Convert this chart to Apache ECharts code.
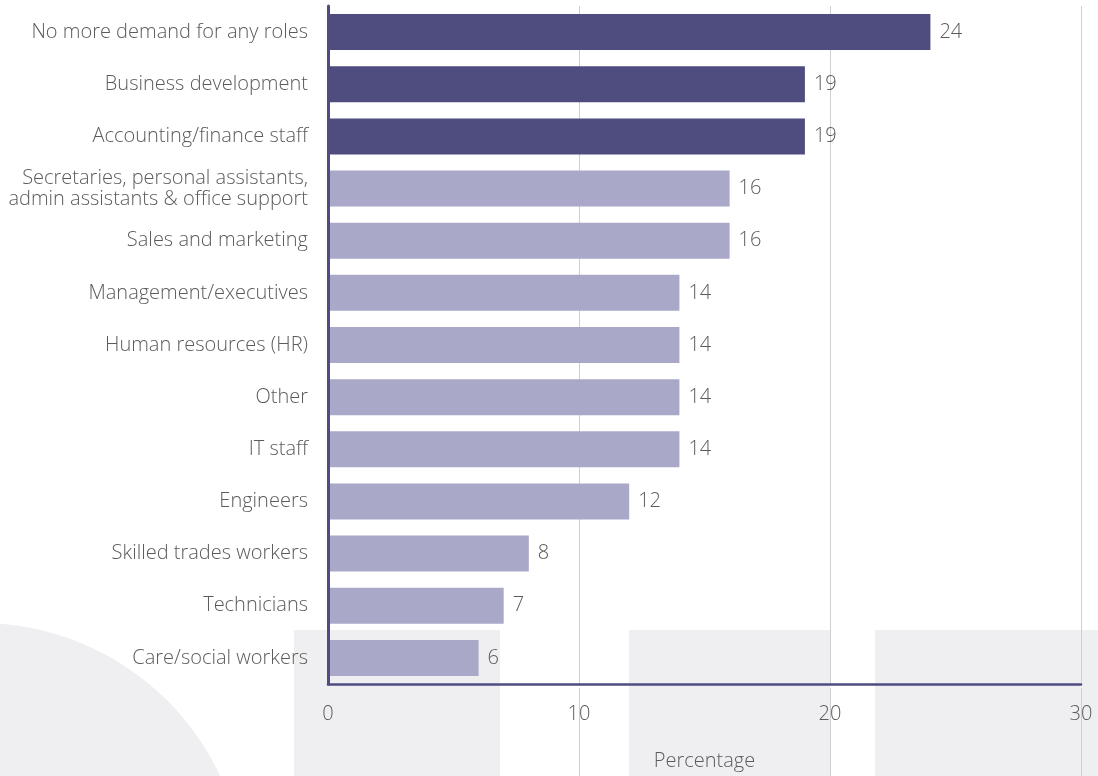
<!DOCTYPE html>
<html><head><meta charset="utf-8">
<script src="https://cdn.jsdelivr.net/npm/echarts@6/dist/echarts.min.js"></script>
<style>html,body{margin:0;padding:0;background:#fff}#c{width:1098px;height:776px}</style>
</head><body><div id="c"></div>
<script>
const categories = [
  "No more demand for any roles",
  "Business development",
  "Accounting/finance staff",
  "Secretaries, personal assistants,\nadmin assistants & office support",
  "Sales and marketing",
  "Management/executives",
  "Human resources (HR)",
  "Other",
  "IT staff",
  "Engineers",
  "Skilled trades workers",
  "Technicians",
  "Care/social workers"
];
const values = [24, 19, 19, 16, 16, 14, 14, 14, 14, 12, 8, 7, 6];
const highlighted = [true, true, true, false, false, false, false, false, false, false, false, false, false];
const xTicks = [0, 10, 20, 30];

const DARK = '#4f4c80', LIGHT = '#a9a8c8', TXT = '#5b5b5b', BG = '#efeff1';
const font = '"Open Sans", "Noto Sans", sans-serif';
const FS = 20, FW = 300;

const chart = echarts.init(document.getElementById('c'), null, {renderer: 'canvas'});
chart.setOption({
  animation: false,
  textStyle: {fontFamily: font},
  graphic: [
    {type: 'circle', shape: {cx: -20, cy: 888, r: 265}, style: {fill: BG}, z: -10, silent: true},
    {type: 'rect', shape: {x: 294, y: 630, width: 206, height: 146}, style: {fill: BG}, z: -10, silent: true},
    {type: 'rect', shape: {x: 629, y: 630, width: 201, height: 146}, style: {fill: BG}, z: -10, silent: true},
    {type: 'rect', shape: {x: 875, y: 630, width: 223, height: 146}, style: {fill: BG}, z: -10, silent: true}
  ],
  grid: [
    {left: 328, right: 17, top: 6, bottom: 90, containLabel: false},
    {left: 328, right: 17, top: 688, bottom: 0, containLabel: false}
  ],
  xAxis: [
    {
      type: 'value', gridIndex: 0, min: xTicks[0], max: xTicks[xTicks.length - 1], interval: 10,
      axisLine: {show: true, lineStyle: {color: DARK, width: 2.5}},
      axisTick: {show: false},
      axisLabel: {color: TXT, fontSize: FS, fontWeight: FW, margin: 20, fontFamily: font},
      splitLine: {show: true, showMinLine: false, lineStyle: {color: '#cfcfcf', width: 1}},
      name: 'Percentage', nameLocation: 'middle', nameGap: 67,
      nameTextStyle: {color: TXT, fontSize: FS, fontWeight: FW, fontFamily: font}
    },
    {
      type: 'value', gridIndex: 1, min: xTicks[0], max: xTicks[xTicks.length - 1], interval: 10,
      axisLine: {show: false}, axisTick: {show: false}, axisLabel: {show: false},
      splitLine: {show: true, showMinLine: false, lineStyle: {color: '#cfcfcf', width: 1}}
    }
  ],
  yAxis: [
    {
      type: 'category', gridIndex: 0, data: categories, inverse: true,
      axisLine: {show: true, lineStyle: {color: DARK, width: 3}},
      axisTick: {show: false},
      axisLabel: {color: TXT, fontSize: FS, fontWeight: FW, margin: 20, lineHeight: 21, fontFamily: font, align: 'right'},
      z: 6
    },
    {type: 'category', gridIndex: 1, data: ['x'], show: false}
  ],
  series: [{
    type: 'bar', xAxisIndex: 0, yAxisIndex: 0,
    data: values.map((v, i) => ({value: v, itemStyle: {color: highlighted[i] ? DARK : LIGHT}})),
    barCategoryGap: '31%',
    label: {show: true, position: 'right', distance: 9, color: TXT, fontSize: FS, fontWeight: FW, fontFamily: font},
    z: 4
  }]
});
</script>
</body></html>
